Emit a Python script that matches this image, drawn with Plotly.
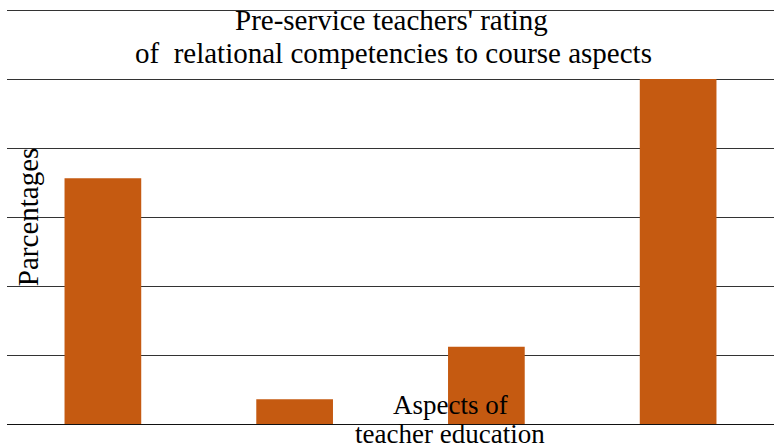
import plotly.graph_objects as go

categories = ["Aspect 1", "Aspect 2", "Aspect 3", "Aspect 4"]
percentages = [35.6, 3.6, 11.2, 50.0]
y_ticks = [0, 10, 20, 30, 40, 50, 60]

W, H = 776, 448
L, R, T, B = 7, 2, 8, 24.3
pw, ph = W - L - R, H - T - B
y_top = 60 * ph / (H - B - 10)  # so that the 60 gridline sits at y=10

def px(x):
    return (x - L) / pw

def py(y):
    return (H - B - y) / ph

serif = "Liberation Serif, Times New Roman, serif"

fig = go.Figure(go.Bar(x=categories, y=percentages, marker_color="#C55A11",
                       marker_line_width=0, width=0.4, hoverinfo="skip"))

ann = [
    dict(text="Pre-service teachers' rating", x=px(391), y=py(20), size=29),
    dict(text="of  relational competencies to course aspects", x=px(394), y=py(53), size=29),
    dict(text="Aspects of", x=px(450), y=py(405), size=27),
    dict(text="teacher education", x=px(450), y=py(433.5), size=27),
]
annotations = [dict(text=a["text"], x=a["x"], y=a["y"], xref="paper", yref="paper",
                    xanchor="center", yanchor="middle", showarrow=False,
                    font=dict(family=serif, size=a["size"], color="black"))
               for a in ann]
annotations.append(dict(text="Parcentages", x=px(28), y=py(217), xref="paper", yref="paper",
                        xanchor="center", yanchor="middle", showarrow=False, textangle=-90,
                        font=dict(family=serif, size=29, color="black")))

fig.update_layout(
    width=W, height=H,
    margin=dict(l=L, r=R, t=T, b=B, pad=0),
    paper_bgcolor="white", plot_bgcolor="white",
    showlegend=False,
    annotations=annotations,
    xaxis=dict(showticklabels=False, showgrid=False, zeroline=False, showline=False, ticks=""),
    yaxis=dict(range=[0, y_top], tickvals=y_ticks, showticklabels=False, showgrid=True,
               gridcolor="#333333", gridwidth=1, zeroline=True, zerolinecolor="#111111",
               zerolinewidth=1, showline=False, ticks=""),
)

fig.write_html("out.html", config={"displayModeBar": False},
               post_script="document.body.style.margin='0';")
